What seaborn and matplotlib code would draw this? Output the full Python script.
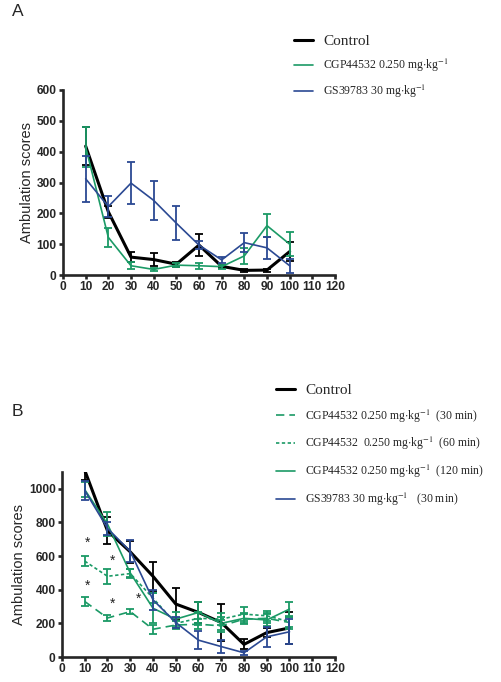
import numpy as np
import pandas as pd
import matplotlib
matplotlib.use("Agg")
import matplotlib.pyplot as plt
import seaborn as sns
from matplotlib.lines import Line2D

# 时间点 (min)
times = [10, 20, 30, 40, 50, 60, 70, 80, 90, 100]

# 图A: 均值和误差
ctrl_a = [418, 205, 58, 50, 35, 97, 28, 15, 16, 76]
ctrl_a_err = [62, 20, 17, 20, 8, 36, 6, 6, 5, 30]
cgp_a = [415, 122, 30, 18, 32, 30, 27, 62, 160, 100]
cgp_a_err = [65, 32, 12, 5, 6, 10, 7, 25, 38, 38]
gs_a = [312, 222, 298, 242, 168, 97, 49, 105, 88, 30]
gs_a_err = [75, 33, 68, 62, 55, 12, 10, 30, 35, 22]

# 图B
ctrl_b = [1110, 750, 625, 480, 315, 265, 205, 75, 145, 173]
ctrl_b_err = [55, 80, 65, 85, 95, 60, 110, 30, 25, 95]
cgp30_b = [330, 232, 270, 165, 190, 195, 185, 225, 230, 205]
cgp30_err = [25, 20, 15, 28, 25, 30, 35, 30, 30, 40]
cgp60_b = [570, 480, 496, 350, 200, 230, 225, 255, 245, 210]
cgp60_err = [30, 45, 25, 30, 30, 40, 35, 40, 30, 30]
cgp120_b = [995, 790, 500, 290, 225, 265, 200, 230, 220, 285]
cgp120_err = [45, 70, 25, 90, 40, 60, 40, 30, 35, 45]
gs_b = [990, 765, 628, 340, 205, 100, 62, 25, 120, 150]
gs_b_err = [55, 40, 65, 60, 35, 55, 40, 12, 60, 75]

# 星号位置
star_x = [11, 22, 11, 22, 33.5]
star_y = [680, 575, 425, 315, 345]

GREEN = "#1b9a66"
BLUE = "#2b4993"
BLACK = "#000000"

sns.set_style("ticks")
plt.rcParams['font.family'] = ['Liberation Sans', 'DejaVu Sans']
plt.rcParams['mathtext.fontset'] = 'stix'

fig = plt.figure(figsize=(5.02, 6.82), dpi=100)
W, H = 502, 682
ax_a = fig.add_axes([63 / W, 1 - 275 / H, 272 / W, 185 / H])
ax_b = fig.add_axes([62 / W, 1 - 657 / H, 273 / W, 185 / H])


def draw_series(ax, y, err, color, lw, ls='-'):
    sns.lineplot(x=times, y=y, color=color, lw=lw, linestyle=ls, ax=ax,
                 errorbar=None, clip_on=True)
    ax.errorbar(times, y, yerr=err, fmt='none', ecolor=color, elinewidth=1.3,
                capsize=3, capthick=1.3, clip_on=True)


draw_series(ax_a, ctrl_a, ctrl_a_err, BLACK, 2.2)
draw_series(ax_a, cgp_a, cgp_a_err, GREEN, 1.2)
draw_series(ax_a, gs_a, gs_a_err, BLUE, 1.2)

draw_series(ax_b, ctrl_b, ctrl_b_err, BLACK, 2.2)
draw_series(ax_b, cgp30_b, cgp30_err, GREEN, 1.2, (0, (5, 3)))
draw_series(ax_b, cgp60_b, cgp60_err, GREEN, 1.2, (0, (2, 1.5)))
draw_series(ax_b, cgp120_b, cgp120_err, GREEN, 1.2)
draw_series(ax_b, gs_b, gs_b_err, BLUE, 1.2)

for sx, sy in zip(star_x, star_y):
    ax_b.text(sx, sy, '*', ha='center', va='center', fontsize=10, color='#222222')

for ax, ymax, yt in [(ax_a, 600, range(0, 601, 100)), (ax_b, 1100, range(0, 1001, 200))]:
    ax.set_xlim(0, 120)
    ax.set_ylim(0, ymax)
    ax.set_xticks(range(0, 121, 10))
    ax.set_yticks(list(yt))
    sns.despine(ax=ax)
    for s in ['left', 'bottom']:
        ax.spines[s].set_linewidth(1.9)
    ax.tick_params(direction='out', length=3, width=1.9, pad=1.5)
    for lab in ax.get_xticklabels() + ax.get_yticklabels():
        lab.set_fontweight('bold')
        lab.set_fontsize(8.6)
    ax.set_ylabel('Ambulation scores', fontsize=10.5, labelpad=2)
    ax.set_xlabel('')

fig.text(12 / W, 1 - 11 / H, 'A', fontsize=12.5, va='center', ha='left')
fig.text(12 / W, 1 - 411 / H, 'B', fontsize=12.5, va='center', ha='left')

unit = r'mg$\cdot$kg$^{-1}$'

handles_a = [Line2D([], [], color=BLACK, lw=2.2),
             Line2D([], [], color=GREEN, lw=1.2),
             Line2D([], [], color=BLUE, lw=1.2)]
labels_a = ['Control', 'CGP44532 0.250 ' + unit, 'GS39783 30 ' + unit]
leg_a = fig.legend(handles_a, labels_a, loc='upper left',
                   bbox_to_anchor=(283 / W, 1 - 24 / H), frameon=False,
                   prop={'family': 'Liberation Serif', 'size': 8.5},
                   handlelength=1.6, handletextpad=0.9, labelspacing=0.75)
leg_a.get_texts()[0].set_fontsize(11)

handles_b = [Line2D([], [], color=BLACK, lw=2.2),
             Line2D([], [], color=GREEN, lw=1.2, ls=(0, (5, 3))),
             Line2D([], [], color=GREEN, lw=1.2, ls=(0, (2, 1.5))),
             Line2D([], [], color=GREEN, lw=1.2),
             Line2D([], [], color=BLUE, lw=1.2)]
labels_b = ['Control',
            'CGP44532 0.250 ' + unit + '  (30 min)',
            'CGP44532  0.250 ' + unit + '  (60 min)',
            'CGP44532 0.250 ' + unit + '  (120 min)',
            'GS39783 30 ' + unit + '   (30 min)']
leg_b = fig.legend(handles_b, labels_b, loc='upper left',
                   bbox_to_anchor=(265 / W, 1 - 373 / H), frameon=False,
                   prop={'family': 'Liberation Serif', 'size': 8.5},
                   handlelength=1.6, handletextpad=0.9, labelspacing=0.9)
leg_b.get_texts()[0].set_fontsize(11)

fig.savefig('out.png', dpi=100)
